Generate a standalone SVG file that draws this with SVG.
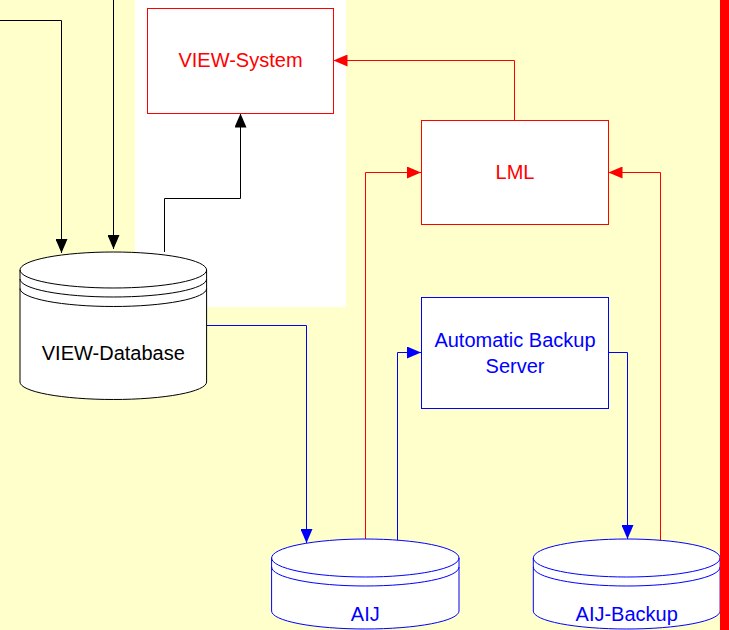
<svg xmlns="http://www.w3.org/2000/svg" width="729" height="630" viewBox="0 0 729 630">
  <style>
    text { font-family: "Liberation Sans", Arial, sans-serif; font-size: 20px; text-anchor: middle; }
    .box { fill: #FFFFFF; stroke-width: 1; }
    .red { stroke: #FF0000; }
    .blue { stroke: #0000FF; }
    .blk { stroke: #000000; }
    .tred { fill: #FF0000; }
    .tblue { fill: #0000FF; }
    .tblk { fill: #000000; }
    .wire { fill: none; stroke-width: 1; }
  </style>
  <defs>
    <marker id="arrBlack" viewBox="0 0 14 12" refX="14" refY="6" markerWidth="14" markerHeight="12" markerUnits="userSpaceOnUse" orient="auto">
      <path d="M0,0 L14,6 L0,12 Z" fill="#000000"/>
    </marker>
    <marker id="arrRed" viewBox="0 0 14 12" refX="14" refY="6" markerWidth="14" markerHeight="12" markerUnits="userSpaceOnUse" orient="auto">
      <path d="M0,0 L14,6 L0,12 Z" fill="#FF0000"/>
    </marker>
    <marker id="arrBlue" viewBox="0 0 14 12" refX="14" refY="6" markerWidth="14" markerHeight="12" markerUnits="userSpaceOnUse" orient="auto">
      <path d="M0,0 L14,6 L0,12 Z" fill="#0000FF"/>
    </marker>
  </defs>

  <!-- page background and white panel -->
  <rect x="0" y="0" width="729" height="630" fill="#FFFFCC"/>
  <rect x="135" y="0" width="211" height="307" fill="#FFFFFF"/>

  <!-- connectors -->
  <g id="connectors">
    <path class="wire blk" d="M0,20.5 H61.5 V253" marker-end="url(#arrBlack)"/>
    <path class="wire blk" d="M113.5,0 V249" marker-end="url(#arrBlack)"/>
    <path class="wire blk" d="M164.5,252 V198.5 H240.5 V113.5" marker-end="url(#arrBlack)"/>
    <path class="wire red" d="M514.5,120 V60.5 H333.5" marker-end="url(#arrRed)"/>
    <path class="wire red" d="M365.5,539 V172.5 H421" marker-end="url(#arrRed)"/>
    <path class="wire red" d="M660.5,541 V172.5 H608.5" marker-end="url(#arrRed)"/>
    <path class="wire blue" d="M207,325.5 H306.5 V543" marker-end="url(#arrBlue)"/>
    <path class="wire blue" d="M397.5,540 V352.5 H421" marker-end="url(#arrBlue)"/>
    <path class="wire blue" d="M608.5,352.5 H627.5 V539" marker-end="url(#arrBlue)"/>
  </g>

  <!-- VIEW-System -->
  <g id="view-system">
    <rect class="box red" x="147.5" y="8.5" width="186" height="105"/>
    <text class="tred" x="240.5" y="67">VIEW-System</text>
  </g>

  <!-- LML -->
  <g id="lml">
    <rect class="box red" x="421.5" y="120.5" width="187" height="104"/>
    <text class="tred" x="515" y="179">LML</text>
  </g>

  <!-- Automatic Backup Server -->
  <g id="backup-server">
    <rect class="box blue" x="421.5" y="297.5" width="187" height="111"/>
    <text class="tblue" x="515" y="347">Automatic Backup</text>
    <text class="tblue" x="515" y="372.5">Server</text>
  </g>

  <!-- VIEW-Database cylinder -->
  <g id="view-database">
    <path class="box blk" d="M20,270 V382 A93.3,17.5 0 0 0 206.6,382 V270 A93.3,18 0 0 0 20,270 Z"/>
    <path class="wire blk" d="M20,270 A93.3,18 0 0 0 206.6,270"/>
    <path class="wire blk" d="M20,279 A93.3,18 0 0 0 206.6,279"/>
    <path class="wire blk" d="M20,288.5 A93.3,18 0 0 0 206.6,288.5"/>
    <text class="tblk" x="113.3" y="360">VIEW-Database</text>
  </g>

  <!-- AIJ cylinder -->
  <g id="aij">
    <path class="box blue" d="M271.6,558 V611 A93.7,18 0 0 0 459,611 V558 A93.7,19 0 0 0 271.6,558 Z"/>
    <path class="wire blue" d="M271.6,558 A93.7,19 0 0 0 459,558"/>
    <path class="wire blue" d="M271.6,567 A93.7,19 0 0 0 459,567"/>
    <text class="tblue" x="365.3" y="620.5">AIJ</text>
  </g>

  <!-- AIJ-Backup cylinder -->
  <g id="aij-backup">
    <path class="box blue" d="M533.3,558 V611 A93.4,18 0 0 0 720.1,611 V558 A93.4,19 0 0 0 533.3,558 Z"/>
    <path class="wire blue" d="M533.3,558 A93.4,19 0 0 0 720.1,558"/>
    <path class="wire blue" d="M533.3,567 A93.4,19 0 0 0 720.1,567"/>
    <text class="tblue" x="626.7" y="620.5">AIJ-Backup</text>
  </g>

  <!-- right edge bar -->
  <rect x="720" y="0" width="9" height="630" fill="#FF0000"/>
</svg>
